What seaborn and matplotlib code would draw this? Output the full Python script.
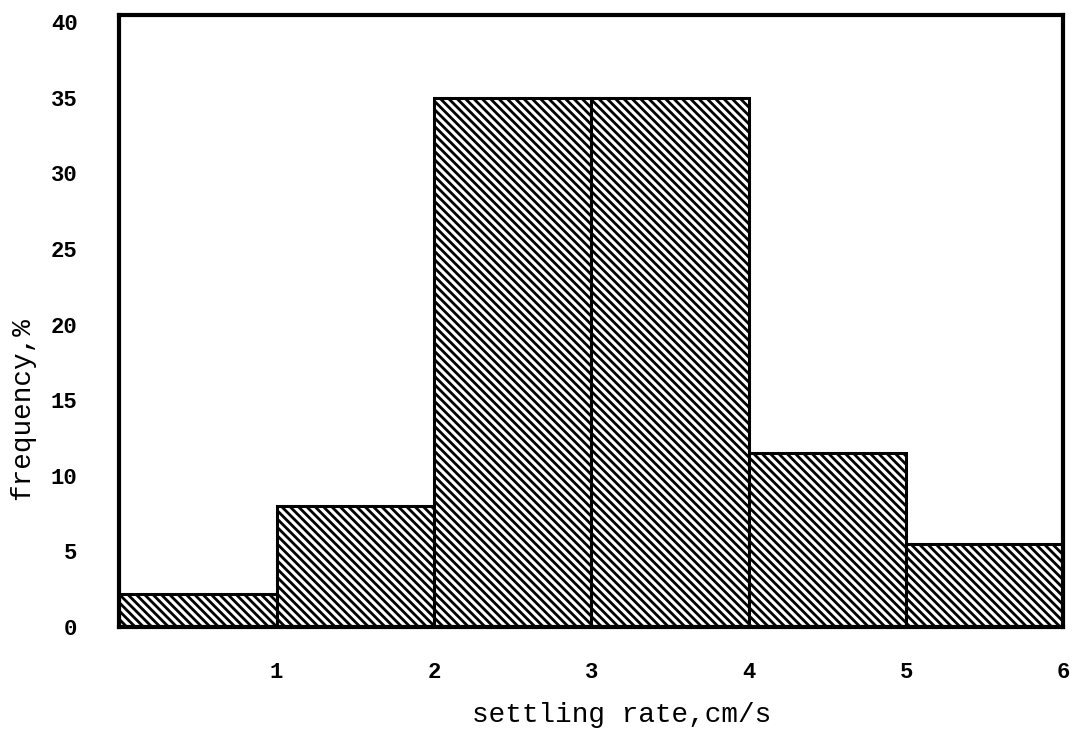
import matplotlib
matplotlib.use("Agg")
import matplotlib.pyplot as plt
import seaborn as sns
import numpy as np

# Settling-rate classes (cm/s) and the share of particles in each class (%)
bin_edges = [0, 1, 2, 3, 4, 5, 6]
frequency = [2.2, 8.0, 35.0, 35.0, 11.5, 5.5]
x_ticks = [1, 2, 3, 4, 5, 6]
y_ticks = [0, 5, 10, 15, 20, 25, 30, 35, 40]

sns.set_theme(style="white")
plt.rcParams["font.family"] = ["Liberation Mono", "DejaVu Sans Mono"]
plt.rcParams["hatch.linewidth"] = 2.0
plt.rcParams["hatch.color"] = "black"

centers = [(a + b) / 2 for a, b in zip(bin_edges[:-1], bin_edges[1:])]

fig = plt.figure(figsize=(10.84, 7.34), dpi=100)
ax = fig.add_axes([0.110, 0.146, 0.871, 0.834])

sns.histplot(
    x=centers, weights=frequency, bins=bin_edges, ax=ax,
    stat="count", fill=True, color="white", alpha=1.0,
    edgecolor="black", linewidth=2.2, hatch="\\\\\\\\",
)

ax.set_xlim(0, 6)
ax.set_ylim(0, 40.5)
ax.set_xticks(x_ticks)
ax.set_yticks(y_ticks)
ax.set_xticklabels([str(t) for t in x_ticks])
ax.set_yticklabels([str(t) for t in y_ticks])
ax.tick_params(axis="both", length=0, labelsize=16, colors="black")
ax.tick_params(axis="x", pad=25)
ax.tick_params(axis="y", pad=30)
for lbl in ax.get_xticklabels() + ax.get_yticklabels():
    lbl.set_fontweight("bold")

for side in ["left", "right", "top", "bottom"]:
    ax.spines[side].set_visible(True)
    ax.spines[side].set_color("black")
    ax.spines[side].set_linewidth(3.0)

ax.set_xlabel("settling rate,cm/s", fontsize=20, color="black")
ax.set_ylabel("frequency,%", fontsize=20, color="black")
ax.xaxis.set_label_coords(0.532, -0.122)
ax.yaxis.set_label_coords(-0.089, 0.356)
ax.grid(False)

fig.savefig("out.png", dpi=100, facecolor="white")
